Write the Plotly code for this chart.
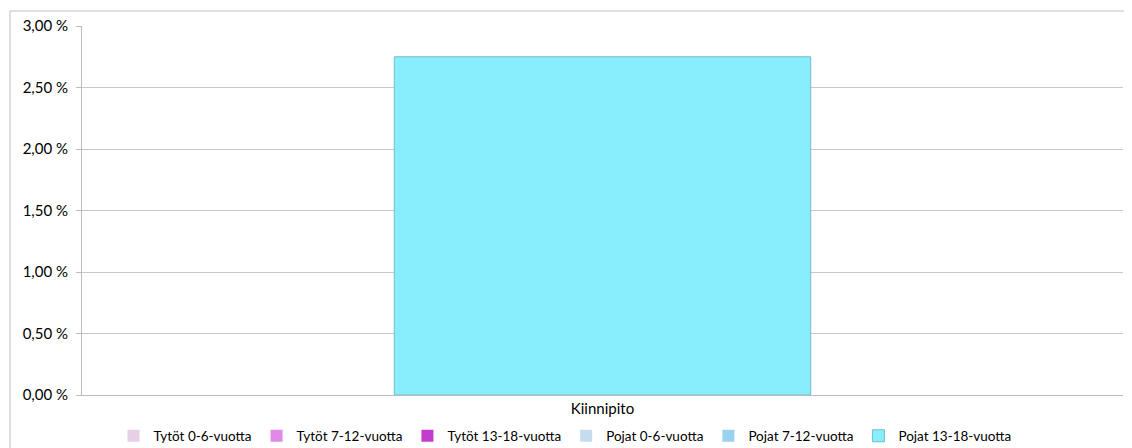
import plotly.graph_objects as go

categories = ["Kiinnipito"]
series_names = ["Tytöt 0-6-vuotta", "Tytöt 7-12-vuotta", "Tytöt 13-18-vuotta",
                "Pojat 0-6-vuotta", "Pojat 7-12-vuotta", "Pojat 13-18-vuotta"]
tytot_0_6 = [0.0]
tytot_7_12 = [0.0]
tytot_13_18 = [0.0]
pojat_0_6 = [0.0]
pojat_7_12 = [0.0]
pojat_13_18 = [2.75]
series_values = [tytot_0_6, tytot_7_12, tytot_13_18, pojat_0_6, pojat_7_12, pojat_13_18]
colors = ["#e8cfe8", "#e08ae6", "#c43ccc", "#c4dcee", "#98d2ee", "#88edfd"]

fig = go.Figure()
for name, vals, col in zip(series_names, series_values, colors):
    nonzero = any(v != 0 for v in vals)
    fig.add_trace(go.Bar(
        x=categories, y=vals, name=name,
        marker=dict(color=col,
                    line=dict(color="#74bccb" if nonzero else col, width=1 if nonzero else 0)),
    ))

# page has an 8px body margin; compensate so the plot area lands at the reference spot
OFF = 8
W, H = 1132 - OFF, 448 - OFF
PLOT_L, PLOT_R, PLOT_T, PLOT_B = 82, 1123, 26, 395   # page coords of plot area
ml = PLOT_L - OFF
mt = PLOT_T - OFF
mr = OFF + W - PLOT_R
mb = OFF + H - PLOT_B
pw, ph = PLOT_R - PLOT_L, PLOT_B - PLOT_T

def px_x(p):
    return (p - PLOT_L) / pw

def px_y(p):
    return (PLOT_B - p) / ph

FONT = "Lato, Open Sans, sans-serif"
FS = 15

fig.update_layout(
    width=W, height=H,
    margin=dict(l=ml, r=mr, t=mt, b=mb, pad=0, autoexpand=False),
    barmode="overlay",
    bargap=0.6,
    plot_bgcolor="white", paper_bgcolor="white",
    separators=", ",
    font=dict(family=FONT, size=FS, color="#000000"),
    showlegend=True,
    legend=dict(orientation="h", x=px_x(565), xanchor="center", y=px_y(436), yanchor="middle",
                font=dict(size=13.5), itemwidth=30, tracegroupgap=0,
                bgcolor="rgba(0,0,0,0)"),
    xaxis=dict(showgrid=False, showline=True, linecolor="#bcbcbc", linewidth=1,
               ticks="", tickfont=dict(size=FS), fixedrange=True),
    yaxis=dict(range=[0, 3], dtick=0.5, tickformat=".2f", ticksuffix=" %",
               showgrid=True, gridcolor="#c8c8c8", gridwidth=1,
               showline=True, linecolor="#bcbcbc", linewidth=1,
               ticks="outside", ticklen=5, tickcolor="#bcbcbc",
               ticklabelstandoff=5,
               zeroline=False, tickfont=dict(size=FS)),
    shapes=[dict(type="rect", xref="paper", yref="paper",
                 x0=px_x(10), x1=px_x(1160), y0=px_y(470), y1=px_y(11),
                 line=dict(color="#c0c0c0", width=1), layer="below")],
)

fig.write_html("out.html")
